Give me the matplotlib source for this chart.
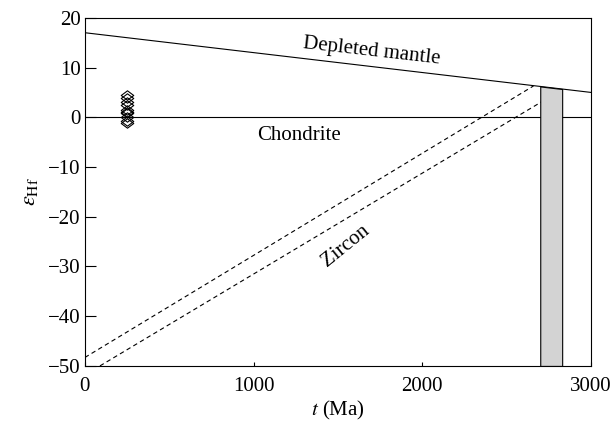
import numpy as np
import matplotlib.pyplot as plt
from matplotlib.path import Path

plt.rcParams['font.family'] = ['Liberation Serif', 'DejaVu Serif']
plt.rcParams['mathtext.fontset'] = 'stix'

# Depleted mantle evolution line (t in Ma, eps Hf)
dm_t = [0, 3000]
dm_eps = [17.0, 5.0]

# Chondrite reference
chur_t = [0, 3000]
chur_eps = [0, 0]

# Zircon model-age trajectories (dashed)
zr1_t = [0, 2660]
zr1_eps = [-48.3, 6.3]
zr2_t = [89, 2816]
zr2_eps = [-50.0, 5.3]

# Zircon samples at ~250 Ma
samp_t = [249, 249, 249, 249, 249, 249, 249, 249, 249, 249]
samp_eps = [4.4, 3.8, 3.0, 2.4, 1.5, 1.1, 0.8, 0.1, -0.7, -1.2]

# Model-age band
band_t = [2700, 2830]

fig = plt.figure(figsize=(6.11, 4.24), dpi=100)
ax = fig.add_axes([0.139, 0.137, 0.828, 0.821])

ax.plot(dm_t, dm_eps, color='black', lw=0.8)
ax.plot(chur_t, chur_eps, color='black', lw=0.8)
ax.plot(zr1_t, zr1_eps, color='black', lw=0.8, ls=(0, (4, 3)))
ax.plot(zr2_t, zr2_eps, color='black', lw=0.8, ls=(0, (4, 3)))

bt = np.array(band_t)
btop = np.interp(bt, dm_t, dm_eps)
ax.fill_between(bt, -50, btop, facecolor='#d3d3d3', edgecolor='black', lw=0.8, zorder=3)

diamond = Path([(-1, 0), (0, 0.75), (1, 0), (0, -0.75), (-1, 0)],
               [Path.MOVETO, Path.LINETO, Path.LINETO, Path.LINETO, Path.CLOSEPOLY])
ax.plot(samp_t, samp_eps, ls='none', marker=diamond, markersize=9,
        markerfacecolor='none', markeredgecolor='black', markeredgewidth=0.8)

ax.text(1700, 13.2, 'Depleted mantle', fontsize=15, ha='center', va='center', rotation=-6.5)
ax.text(1270, -3.6, 'Chondrite', fontsize=15, ha='center', va='center')
ax.text(1547, -25.8, 'Zircon', fontsize=15, ha='center', va='center', rotation=39)

ax.set_xlim(0, 3000)
ax.set_ylim(-50, 20)
ax.set_xticks([0, 1000, 2000, 3000])
ax.set_yticks(np.arange(-50, 21, 10))
ax.set_yticklabels(['\u221250', '\u221240', '\u221230', '\u221220', '\u221210', '0', '10', '20'])
ax.tick_params(axis='x', direction='in', length=3, width=0.8, labelsize=15, pad=8)
ax.tick_params(axis='y', direction='in', length=8, width=0.8, labelsize=15, pad=3)
for s in ax.spines.values():
    s.set_linewidth(0.8)

ax.set_xlabel(r'$\it{t}$ (Ma)', fontsize=15, labelpad=2)
ax.set_ylabel(r'$\varepsilon_{\mathrm{Hf}}$', fontsize=16, labelpad=6)

fig.savefig('out.png', dpi=100)
